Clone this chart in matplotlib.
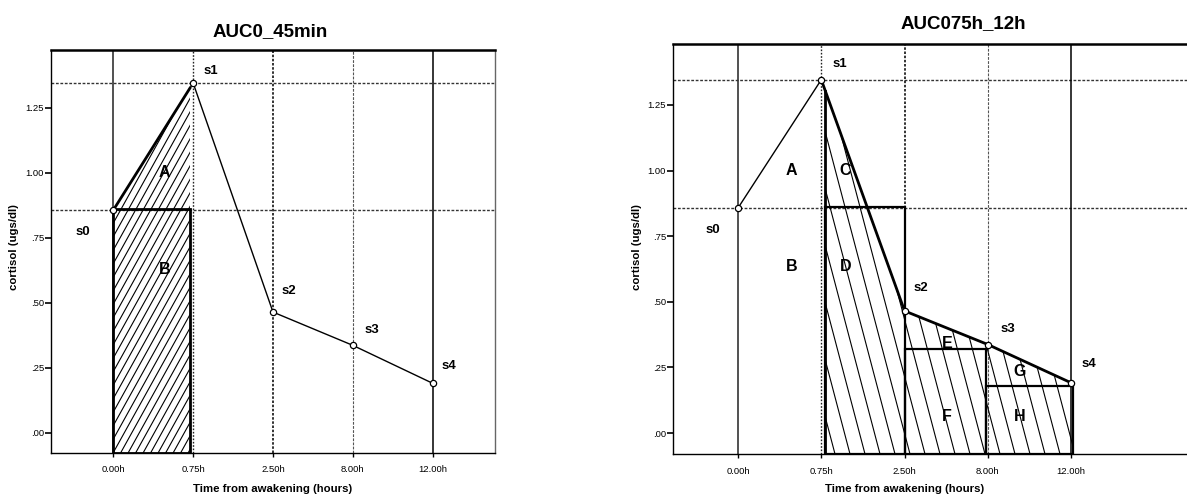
import numpy as np
import matplotlib
matplotlib.use("Agg")
import matplotlib.pyplot as plt
from matplotlib.patches import Polygon, Rectangle
from matplotlib.collections import LineCollection

# ---------------- data ----------------
times = ["0.00h", "0.75h", "2.50h", "8.00h", "12.00h"]
cortisol = [0.857, 1.346, 0.465, 0.337, 0.191]
sample_labels = ["s0", "s1", "s2", "s3", "s4"]
y_ticks = [0.0, 0.25, 0.5, 0.75, 1.0, 1.25]
y_ticklabels = [".00", ".25", ".50", ".75", "1.00", "1.25"]
left_title = "AUC0_45min"
right_title = "AUC075h_12h"
left_areas = ["A", "B"]
right_areas = ["A", "B", "C", "D", "E", "F", "G", "H"]
left_rect_top = 0.86
right_rect_tops = [0.86, 0.32, 0.179]
xlabel = "Time from awakening (hours)"
ylabel = "cortisol (ugs/dl)"

plt.rcParams['font.family'] = ['Liberation Sans', 'DejaVu Sans']

W, H = 1187, 495
fig = plt.figure(figsize=(W / 100, H / 100), dpi=100)


def px_rect(l, t, r, b):
    return [l / W, 1 - b / H, (r - l) / W, (b - t) / H]


def hatch(ax, verts, spacing, slope, lw=0.8):
    poly = Polygon(verts, closed=True, facecolor='none', edgecolor='none',
                   transform=ax.transData)
    ax.add_patch(poly)
    T = ax.transData
    pts = T.transform(np.asarray(verts))
    x0, y0 = pts.min(0)
    x1, y1 = pts.max(0)
    h = y1 - y0
    ext = h / abs(slope) + spacing
    cs = np.arange(x0 - ext, x1 + ext, spacing)
    inv = T.inverted()
    segs = [inv.transform(np.array([(c, y0), (c + h / slope, y1)])) for c in cs]
    lc = LineCollection(segs, colors='black', linewidths=lw)
    lc.set_clip_path(poly)
    ax.add_collection(lc, autolim=False)


def base_axes(rect, xlim, ylim, right_spine=True):
    ax = fig.add_axes(rect)
    ax.set_xlim(*xlim)
    ax.set_ylim(*ylim)
    ax.set_yticks(y_ticks)
    ax.set_yticklabels(y_ticklabels, fontsize=6.8)
    ax.set_xticks(range(len(times)))
    ax.set_xticklabels(times, fontsize=6.8)
    ax.tick_params(axis='y', direction='out', length=4, width=1.2, pad=1)
    ax.tick_params(axis='x', direction='out', length=3, width=1, pad=6)
    ax.spines['top'].set_linewidth(1.8)
    ax.spines['left'].set_linewidth(1.0)
    ax.spines['bottom'].set_linewidth(1.0)
    if right_spine:
        ax.spines['right'].set_color('#666666')
        ax.spines['right'].set_linewidth(1.0)
    else:
        ax.spines['right'].set_visible(False)
    # reference grid lines
    for v in (cortisol[0], cortisol[1]):
        ax.axhline(v, color='#333333', lw=1.0, ls=(0, (2, 1.2)), zorder=1)
    ax.axvline(0, color='#333333', lw=1.2, zorder=1)
    ax.axvline(1, color='#222222', lw=1.0, ls=(0, (1.2, 1.2)), zorder=1)
    ax.axvline(2, color='#111111', lw=1.2, ls=(0, (1.5, 1.0)), zorder=1)
    ax.axvline(3, color='#555555', lw=0.8, ls=(0, (2.5, 1.2)), zorder=1)
    ax.axvline(4, color='black', lw=1.1, zorder=1)
    return ax


x = np.arange(len(times))
y = np.array(cortisol)
MS = 4.5

# ================= left panel =================
axL = base_axes(px_rect(51, 50, 495, 453), (-0.78, 4.78), (-0.077, 1.473))
ylo = -0.077
xe = 0.96
ye = y[0] + (y[1] - y[0]) * xe
hatch(axL, [(0, ylo), (0, y[0]), (xe, ye), (xe, ylo)], spacing=7.5, slope=1.8, lw=0.8)
axL.add_patch(Rectangle((0, ylo), xe, left_rect_top - ylo, fill=False,
                        edgecolor='black', lw=2.0, zorder=3))
axL.plot([0, xe], [y[0], ye], color='black', lw=2.0, zorder=3)
axL.plot(x[1:], y[1:], color='black', lw=1.0, zorder=3)
axL.plot([xe, 1], [ye, y[1]], color='black', lw=1.0, zorder=3)
axL.plot(x, y, ls='none', marker='o', ms=MS, mfc='white', mec='black', mew=0.9, zorder=4)
lab_off = [(-0.375, -0.084), (0.225, 0.046), (0.2, 0.081), (0.24, 0.059), (0.2, 0.067)]
for i, (dx, dy) in enumerate(lab_off):
    axL.text(x[i] + dx, y[i] + dy, sample_labels[i], fontsize=9.5, fontweight='bold',
             ha='center', va='center', zorder=5)
axL.text(0.64, 1.0, left_areas[0], fontsize=11.5, fontweight='bold', ha='center', va='center', zorder=5)
axL.text(0.64, 0.627, left_areas[1], fontsize=11.5, fontweight='bold', ha='center', va='center', zorder=5)
axL.set_xlim(-0.78, 4.78)
axL.set_ylim(-0.077, 1.473)

# ================= right panel =================
axR = base_axes(px_rect(673, 44, 1187, 454), (-0.78, 5.39), (-0.08, 1.482), right_spine=False)
ylo = -0.08
xs, b1, b2, b3 = 1.05, 2.0, 2.98, 4.02
ys = np.interp(xs, x, y)
hatch(axR, [(xs, ylo), (xs, ys), (2, y[2]), (3, y[3]), (4, y[4]), (b3, y[4]), (b3, ylo)],
      spacing=15, slope=-3.8, lw=0.8)
for (l, r), top in zip([(xs, b1), (b1, b2), (b2, b3)], right_rect_tops):
    axR.add_patch(Rectangle((l, ylo), r - l, top - ylo, fill=False,
                            edgecolor='black', lw=1.6, zorder=3))
axR.plot([xs, xs], [ylo, ys], color='black', lw=2.0, zorder=3)
axR.plot(x[:2], y[:2], color='black', lw=1.0, zorder=3)
axR.plot(x[1:], y[1:], color='black', lw=2.0, zorder=3)
axR.plot(x, y, ls='none', marker='o', ms=MS, mfc='white', mec='black', mew=0.9, zorder=4)
lab_offR = [(-0.3, -0.084), (0.22, 0.06), (0.2, 0.087), (0.24, 0.058), (0.21, 0.072)]
for i, (dx, dy) in enumerate(lab_offR):
    axR.text(x[i] + dx, y[i] + dy, sample_labels[i], fontsize=9.5, fontweight='bold',
             ha='center', va='center', zorder=5)
area_pos = [(0.64, 1.0), (0.64, 0.633), (1.29, 1.0), (1.29, 0.633),
            (2.51, 0.34), (2.51, 0.061), (3.38, 0.233), (3.38, 0.061)]
for lab, (px, py) in zip(right_areas, area_pos):
    axR.text(px, py, lab, fontsize=11.5, fontweight='bold', ha='center', va='center', zorder=5)
axR.set_xlim(-0.78, 5.39)
axR.set_ylim(-0.08, 1.482)

# ================= titles / labels =================
fig.text(270 / W, 1 - 32 / H, left_title, fontsize=13.5, fontweight='bold', ha='center', va='center')
fig.text(963 / W, 1 - 24 / H, right_title, fontsize=13.5, fontweight='bold', ha='center', va='center')
fig.text(273 / W, 1 - 489 / H, xlabel, fontsize=8.2, fontweight='bold', ha='center', va='center')
fig.text(905 / W, 1 - 489 / H, xlabel, fontsize=8.2, fontweight='bold', ha='center', va='center')
fig.text(14 / W, 1 - 247 / H, ylabel, fontsize=8.2, fontweight='bold', ha='center', va='center', rotation=90)
fig.text(637 / W, 1 - 247 / H, ylabel, fontsize=8.2, fontweight='bold', ha='center', va='center', rotation=90)

fig.savefig("out.png", dpi=100)
